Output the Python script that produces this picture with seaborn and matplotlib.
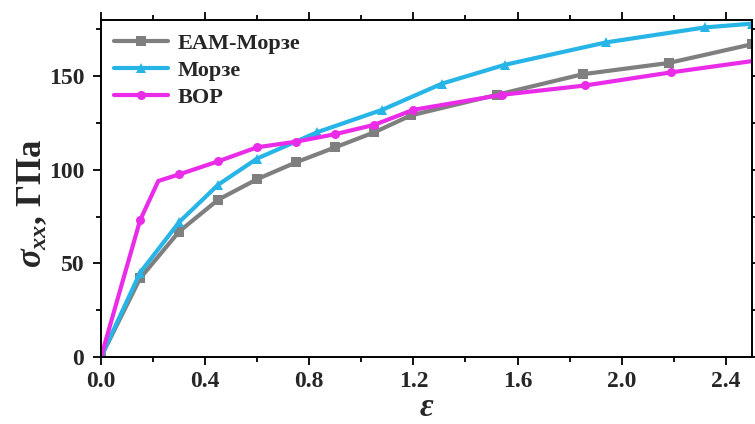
import matplotlib
matplotlib.use("Agg")
import matplotlib.pyplot as plt
from matplotlib.ticker import MultipleLocator
import seaborn as sns
import pandas as pd

# Stress-strain curves for three interatomic potentials
eam_strain = [0.0, 0.15, 0.30, 0.45, 0.60, 0.75, 0.90, 1.05, 1.19, 1.52, 1.85, 2.18, 2.50]
eam_stress = [0.0, 42, 67, 84, 95, 104, 112, 120, 129, 140, 151, 157, 167]

morse_strain = [0.0, 0.15, 0.30, 0.45, 0.60, 0.83, 1.08, 1.31, 1.55, 1.94, 2.32, 2.50]
morse_stress = [0.0, 45, 72, 92, 106, 120, 132, 146, 156, 168, 176, 178]

bop_strain = [0.0, 0.15, 0.22, 0.30, 0.45, 0.60, 0.75, 0.90, 1.05, 1.20, 1.54, 1.86, 2.19, 2.50]
bop_stress = [0.0, 73, 94, 97.5, 104.5, 112, 115, 119, 124, 132, 140, 145, 152, 158]
bop_marked = [1, 3, 4, 5, 6, 7, 8, 9, 10, 11, 12]

series_names = ["EAM-Морзе", "Морзе", "BOP"]
series_colors = ["#7f7f7f", "#27b4e6", "#ea2ce8"]
series_markers = ["s", "^", "o"]

x_ticks = [0.0, 0.4, 0.8, 1.2, 1.6, 2.0, 2.4]
y_ticks = [0, 50, 100, 150]

sns.set_theme(style="ticks")
plt.rcParams["font.family"] = ["Liberation Serif", "DejaVu Serif"]
plt.rcParams["font.weight"] = "bold"
plt.rcParams["mathtext.fontset"] = "custom"
plt.rcParams["mathtext.rm"] = "Liberation Serif:bold"
plt.rcParams["mathtext.it"] = "Liberation Serif:italic:bold"
plt.rcParams["mathtext.bf"] = "Liberation Serif:bold"

fig = plt.figure(figsize=(7.55, 4.24), dpi=100)
ax = fig.add_axes([0.1338, 0.158, 0.862, 0.795])

frames = [
    pd.DataFrame({"strain": eam_strain, "stress": eam_stress}),
    pd.DataFrame({"strain": morse_strain, "stress": morse_stress}),
    pd.DataFrame({"strain": bop_strain, "stress": bop_stress}),
]
every = [None, None, bop_marked]

for df, name, col, mk, me in zip(frames, series_names, series_colors, series_markers, every):
    sns.lineplot(data=df, x="strain", y="stress", ax=ax, color=col, marker=mk,
                 markersize=6.5, markeredgewidth=0, linewidth=3.0, label=name,
                 markevery=me, sort=False, estimator=None)

ax.set_xlim(0, 2.5)
ax.set_ylim(0, 180)
ax.set_xticks(x_ticks)
ax.set_xticklabels([f"{v:.1f}" for v in x_ticks])
ax.set_yticks(y_ticks)
ax.xaxis.set_minor_locator(MultipleLocator(0.2))
ax.yaxis.set_minor_locator(MultipleLocator(25))

for side in ["top", "right", "bottom", "left"]:
    ax.spines[side].set_visible(True)
    ax.spines[side].set_color("black")
    ax.spines[side].set_linewidth(1.4)

ax.tick_params(which="both", direction="out", top=True, right=True,
               labeltop=False, labelright=False, color="black", width=1.3)
ax.tick_params(which="major", length=6, labelsize=17, pad=4)
ax.tick_params(axis="y", which="major", pad=6)
ax.tick_params(which="minor", length=3.5)
for lab in ax.get_xticklabels() + ax.get_yticklabels():
    lab.set_fontweight("bold")

ax.set_xlabel(r"$\varepsilon$", fontsize=24)
ax.xaxis.set_label_coords(0.5, -0.105)
ax.set_ylabel(r"$\sigma_{xx}$, ГПа", fontsize=25, fontweight="bold")
ax.yaxis.set_label_coords(-0.08, 0.455)

leg = ax.legend(loc="upper left", frameon=False, fontsize=16, handlelength=2.4,
                handletextpad=0.45, labelspacing=0.3, borderaxespad=0.3,
                borderpad=0.3)
for t in leg.get_texts():
    t.set_fontweight("bold")

fig.savefig("out.png", dpi=100)
